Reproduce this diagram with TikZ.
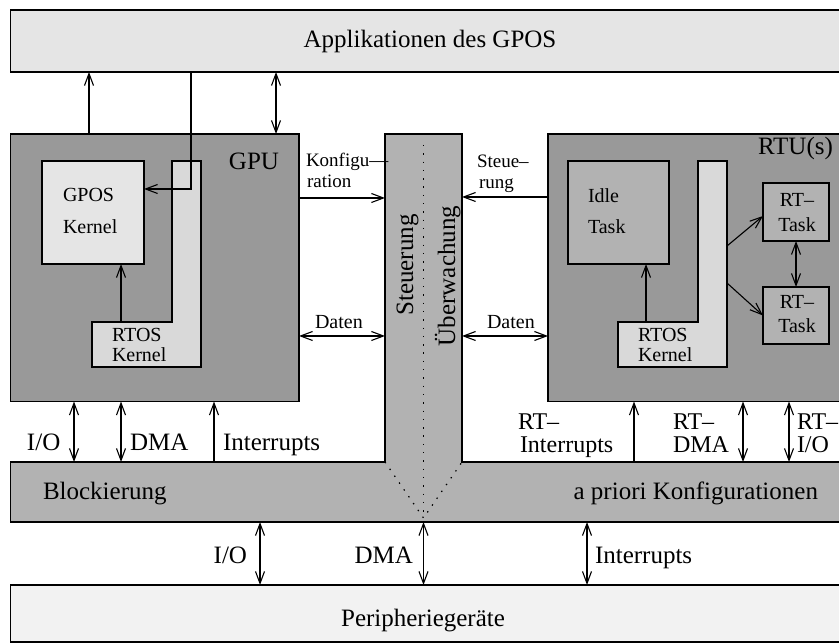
\documentclass[tikz,border=0pt]{standalone}
\usepackage{fontspec}
\setmainfont{Liberation Serif}
\usetikzlibrary{arrows.meta}

\definecolor{appfill}{gray}{0.9}
\definecolor{perifill}{gray}{0.95}
\definecolor{unitfill}{gray}{0.6}
\definecolor{busfill}{gray}{0.7}
\definecolor{kernfill}{gray}{0.85}
\definecolor{taskfill}{gray}{0.7}
\definecolor{gposfill}{gray}{0.9}

\begin{document}
\begin{tikzpicture}[x=1pt,y=-1pt,
  box/.style={draw, line width=1.3pt, inner sep=0pt, outer sep=0pt, anchor=north west},
  area/.style={inner sep=0pt, outer sep=0pt, anchor=north west},
  conn/.style={line width=1.1pt},
  arr/.style={conn, -{Straight Barb[length=12pt,width=9pt,line width=1.1pt]}},
  dbl/.style={conn, {Straight Barb[length=12pt,width=9pt,line width=1.1pt]}-{Straight Barb[length=12pt,width=9pt,line width=1.1pt]}},
  dots/.style={line width=1.2pt, dash pattern=on 1.4pt off 6.9pt},
  lbl/.style={inner sep=0pt, outer sep=0pt, anchor=base west},
  big/.style={font=\fontsize{25}{25}\selectfont},
  mid/.style={font=\fontsize{24}{24}\selectfont},
  small/.style={font=\fontsize{20}{20}\selectfont},
  tiny/.style={font=\fontsize{19}{19}\selectfont}]

\useasboundingbox (0,0) rectangle (839,644);

% ---- outer layers
\node[box, fill=appfill, minimum width=860pt, minimum height=62pt] (app) at (10.5,10) {};
\node[box, fill=perifill, minimum width=860pt, minimum height=57pt] (peri) at (10.5,585) {};

% ---- GPU
\node[box, fill=unitfill, minimum width=288.5pt, minimum height=267.5pt] (gpu) at (10.5,134) {};
\draw[line width=1.3pt, fill=kernfill] (172,161) -- (201,161) -- (201,367) -- (92,367) -- (92,322) -- (172,322) -- cycle;
\node[area, minimum width=109pt, minimum height=45pt] (grtos) at (92,322) {};
\node[box, fill=gposfill, minimum width=102pt, minimum height=103pt] (gposk) at (42,161) {};

% ---- RTU
\node[box, fill=unitfill, minimum width=320pt, minimum height=267.5pt] (rtu) at (548,134) {};
\draw[line width=1.3pt, fill=kernfill] (698,161) -- (727,161) -- (727,367) -- (618,367) -- (618,322) -- (698,322) -- cycle;
\node[area, minimum width=109pt, minimum height=45pt] (rrtos) at (618,322) {};
\node[area, minimum width=29pt, minimum height=206pt] (rbar) at (698,161) {};
\node[box, fill=taskfill, minimum width=101pt, minimum height=103pt] (idle) at (568,161) {};
\node[box, fill=taskfill, minimum width=66pt, minimum height=58pt] (rt1) at (763,183) {};
\node[box, fill=taskfill, minimum width=66pt, minimum height=57pt] (rt2) at (763,287) {};

% ---- control column and blocking layer
\draw[line width=1.3pt, fill=busfill] (10.5,462) -- (385,462) -- (385,134) -- (462,134) -- (462,462)
  -- (870,462) -- (870,522) -- (10.5,522) -- cycle;
\node[area, minimum width=77pt, minimum height=328pt] (col) at (385,134) {};
\node[area, minimum width=860pt, minimum height=60pt] (band) at (10.5,462) {};
\coordinate (apex) at (423.5,518);
\draw[dots] ([yshift=-11pt]col.north) -- (apex);
\draw[dots] (col.south west) -- (apex) -- (col.south east);

% ---- helper abscissae / ordinates
\coordinate (xa) at (89,0);   \coordinate (xb) at (191,0);  \coordinate (xc) at (276,0);
\coordinate (xd) at (121,0);  \coordinate (xe) at (646,0);
\coordinate (x1) at (74,0);   \coordinate (x2) at (121,0);  \coordinate (x3) at (214,0);
\coordinate (x4) at (634,0);  \coordinate (x5) at (743,0);  \coordinate (x6) at (789,0);
\coordinate (x7) at (260,0);  \coordinate (x8) at (423.5,0); \coordinate (x9) at (587,0);
\coordinate (yk) at (0,198);  \coordinate (ys) at (0,197);  \coordinate (yd) at (0,336);
\coordinate (bend) at (191,189);

% ---- connectors
\draw[arr] (xa |- gpu.north) -- (xa |- app.south);
\draw[dbl] (xc |- gpu.north) -- (xc |- app.south);
\draw[arr] (xb |- app.south) -- (bend) -- (gposk.east |- bend);
\draw[arr] (xd |- grtos.north) -- (xd |- gposk.south);

\draw[arr] (gpu.east |- yk) -- (col.west |- yk);
\draw[dbl] (gpu.east |- yd) -- (col.west |- yd);
\draw[arr] (rtu.west |- ys) -- (col.east |- ys);
\draw[dbl] (col.east |- yd) -- (rtu.west |- yd);

\draw[arr] (xe |- rrtos.north) -- (xe |- idle.south);
\draw[arr] ([yshift=18pt]rbar.east) -- ([yshift=-4pt]rt1.west);
\draw[arr] ([yshift=-19pt]rbar.east) -- (rt2.west);
\draw[dbl] (rt1.south) -- (rt2.north);

\draw[dbl] (x1 |- gpu.south) -- (x1 |- band.north);
\draw[dbl] (x2 |- gpu.south) -- (x2 |- band.north);
\draw[arr] (x3 |- band.north) -- (x3 |- gpu.south);
\draw[arr] (x4 |- band.north) -- (x4 |- rtu.south);
\draw[dbl] (x5 |- rtu.south) -- (x5 |- band.north);
\draw[dbl] (x6 |- rtu.south) -- (x6 |- band.north);

\draw[dbl] (x7 |- band.south) -- (x7 |- peri.north);
\draw[dbl] (x8 |- band.south) -- (x8 |- peri.north);
\draw[dbl] (x9 |- band.south) -- (x9 |- peri.north);

% ---- texts
\node[lbl, big, anchor=base] (tapp) at (430,48) {Applikationen des GPOS};
\node[lbl, big, anchor=base] (tperi) at (423,626) {Peripheriegeräte};
\node[lbl, big, anchor=base east] (tgpu) at (279,170) {GPU};
\node[lbl, big] (trtu) at (758,155) {RTU(s)};

\node[lbl, small] (tg1) at (63,202) {GPOS};
\node[lbl, small] (tg2) at (63,234) {Kernel};
\node[lbl, small] (tr1) at (112,342) {RTOS};
\node[lbl, small] (tr2) at (112,362) {Kernel};
\node[lbl, small] (ti1) at (588,203) {Idle};
\node[lbl, small] (ti2) at (588,234) {Task};
\node[lbl, small] (tq1) at (638,342) {RTOS};
\node[lbl, small] (tq2) at (638,362) {Kernel};
\node[lbl, small, anchor=base] (ta1) at (797,207) {RT–};
\node[lbl, small, anchor=base] (ta2) at (797,232) {Task};
\node[lbl, small, anchor=base] (tb1) at (797,309) {RT–};
\node[lbl, small, anchor=base] (tb2) at (797,333) {Task};

\node[lbl, tiny] (tk1) at (306,167) {Konfigu—};
\node[lbl, tiny] (tk2) at (307,188) {ration};
\node[lbl, small] (td1) at (315,329) {Daten};
\node[lbl, small] (td2) at (487,329) {Daten};
\node[lbl, tiny] (ts1) at (477,168) {Steue–};
\node[lbl, tiny] (ts2) at (479,189) {rung};

\node[lbl, big, rotate=90, anchor=base] (tst) at (413,265) {Steuerung};
\node[lbl, big, rotate=90, anchor=base] (tue) at (455,276) {Überwachung};

\node[lbl, big] (tio1) at (27,451) {I/O};
\node[lbl, big] (tdma1) at (130,451) {DMA};
\node[lbl, big] (tint1) at (223,451) {Interrupts};

\node[lbl, mid] (tri1) at (518,430) {RT–};
\node[lbl, mid] (tri2) at (520,453) {Interrupts};
\node[lbl, mid] (trd1) at (673,430) {RT–};
\node[lbl, mid] (trd2) at (673,453) {DMA};
\node[lbl, mid] (tro1) at (797,430) {RT–};
\node[lbl, mid] (tro2) at (797,453) {I/O};

\node[lbl, big] (tblock) at (43,500) {Blockierung};
\node[lbl, big, anchor=base east] (tprio) at (818,500) {a priori Konfigurationen};

\node[lbl, big, anchor=base east] (tio2) at (247,563) {I/O};
\node[lbl, big, anchor=base east] (tdma2) at (413,563) {DMA};
\node[lbl, big] (tint2) at (595,563) {Interrupts};
\end{tikzpicture}
\end{document}
